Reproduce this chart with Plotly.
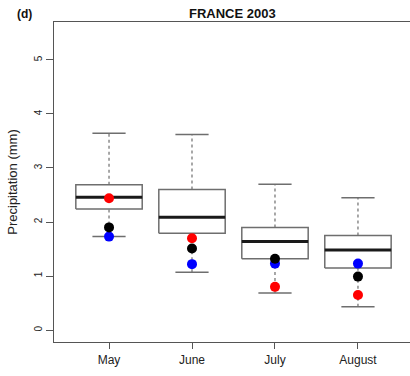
import plotly.graph_objects as go

# Monthly precipitation summaries, France 2003
months = ["May", "June", "July", "August"]
upper_whisker = [3.64, 3.62, 2.70, 2.45]
q3 = [2.69, 2.60, 1.90, 1.75]
median = [2.46, 2.09, 1.64, 1.48]
q1 = [2.24, 1.79, 1.32, 1.15]
lower_whisker = [1.73, 1.07, 0.685, 0.43]

# Single-value markers per month
red_vals = [2.44, 1.70, 0.80, 0.65]
black_vals = [1.90, 1.51, 1.32, 0.99]
blue_vals = [1.73, 1.22, 1.23, 1.23]

pos = list(range(1, len(months) + 1))
half_box = 0.4
half_cap = 0.2

box_color = "#6e6e6e"
axis_color = "#555555"

# Build path coordinates for box outlines, whiskers, caps and medians
bx, by = [], []
wx, wy = [], []
cx, cy = [], []
mx, my = [], []
for p, lo, a, m, b, hi in zip(pos, lower_whisker, q1, median, q3, upper_whisker):
    bx += [p - half_box, p + half_box, p + half_box, p - half_box, p - half_box, None]
    by += [a, a, b, b, a, None]
    wx += [p, p, None, p, p, None]
    wy += [b, hi, None, lo, a, None]
    cx += [p - half_cap, p + half_cap, None, p - half_cap, p + half_cap, None]
    cy += [hi, hi, None, lo, lo, None]
    mx += [p - half_box, p + half_box, None]
    my += [m, m, None]

fig = go.Figure()
fig.add_trace(go.Scatter(x=wx, y=wy, mode="lines",
                         line=dict(color=box_color, width=1.2, dash="3px,3px"),
                         hoverinfo="skip"))
fig.add_trace(go.Scatter(x=cx, y=cy, mode="lines",
                         line=dict(color=box_color, width=1.5), hoverinfo="skip"))
fig.add_trace(go.Scatter(x=bx, y=by, mode="lines",
                         line=dict(color=box_color, width=1.5), hoverinfo="skip"))
fig.add_trace(go.Scatter(x=mx, y=my, mode="lines",
                         line=dict(color="#1a1a1a", width=3), hoverinfo="skip"))

for vals, col in [(red_vals, "#ff0000"), (blue_vals, "#0000ff"), (black_vals, "#000000")]:
    fig.add_trace(go.Scatter(x=pos, y=vals, mode="markers",
                             marker=dict(color=col, size=10, line=dict(width=0))))

font = "Liberation Sans, Arial, sans-serif"

fig.update_layout(
    width=410, height=376,
    margin=dict(l=54, r=0, t=22, b=34),
    paper_bgcolor="white", plot_bgcolor="white",
    showlegend=False,
    font=dict(family=font, color="#222222"),
    xaxis=dict(
        range=[0.337, 4.627],
        tickmode="array", tickvals=pos, ticktext=months,
        showgrid=False, zeroline=False,
        showline=True, mirror=True, linecolor=axis_color, linewidth=1.2,
        ticks="outside", ticklen=6, tickcolor=axis_color, tickwidth=1,
        tickfont=dict(size=12, family=font, color="#222222"),
    ),
    yaxis=dict(
        range=[-0.22, 5.70],
        tickmode="array", tickvals=[0, 1, 2, 3, 4, 5],
        showgrid=False, zeroline=False,
        showline=True, mirror=False, linecolor=axis_color, linewidth=1.2,
        ticks="outside", ticklen=7, tickcolor=axis_color, tickwidth=1,
        tickangle=-90,
        tickfont=dict(size=10, family=font, color="#222222"),
        title=dict(text="Precipitation (mm)", standoff=12,
                   font=dict(size=13, family=font, color="#222222")),
    ),
    annotations=[
        dict(text="<b>FRANCE 2003</b>", xref="paper", yref="paper",
             x=0.5, y=1, yshift=-1, xanchor="center", yanchor="bottom",
             showarrow=False, font=dict(size=13, family=font, color="#111111")),
        dict(text="<b>(d)</b>", xref="paper", yref="paper",
             x=0, xshift=-39, y=1, yshift=-1, xanchor="left", yanchor="bottom",
             showarrow=False, font=dict(size=12, family=font, color="#111111")),
    ],
)

fig.write_html("out.html")
